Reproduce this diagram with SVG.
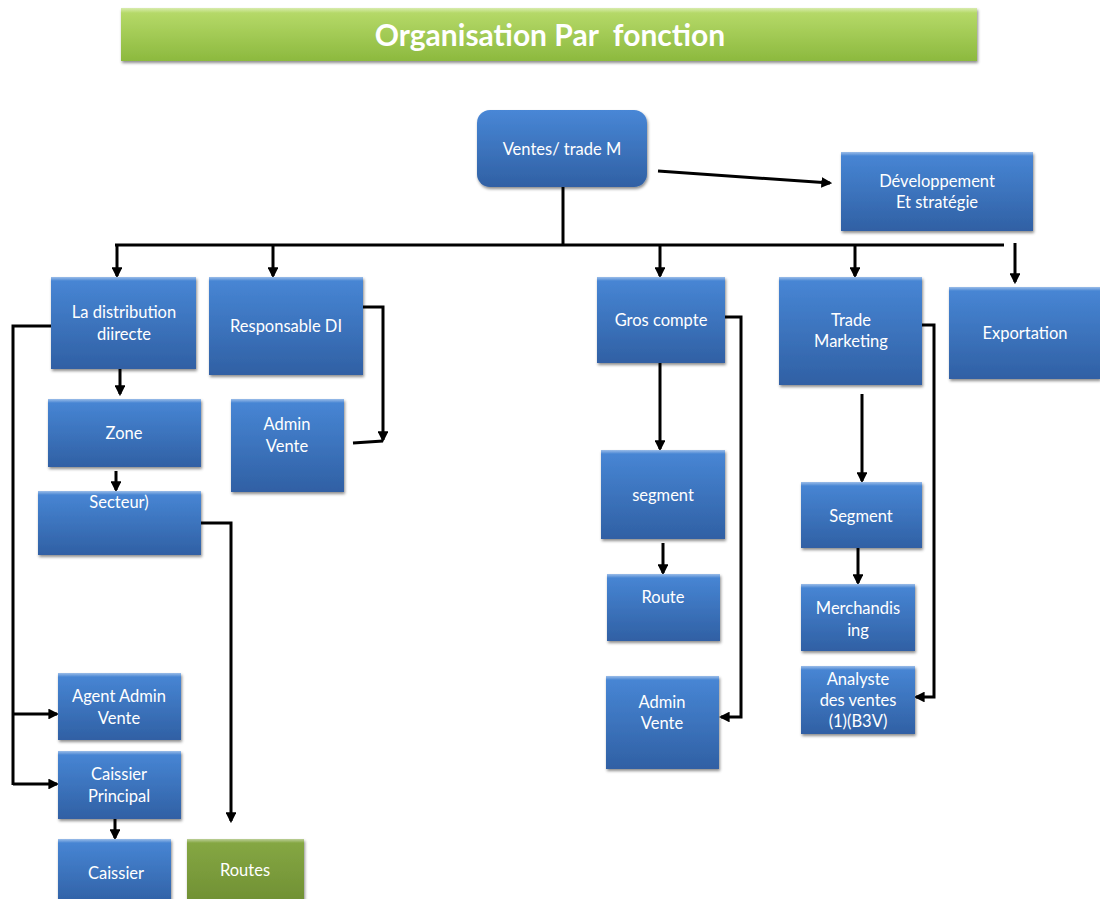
<svg xmlns="http://www.w3.org/2000/svg" width="1100" height="899" viewBox="0 0 1100 899">
  <style>
    .box { fill: url(#blue); filter: url(#shadow); }
    .gbox { fill: url(#olive); filter: url(#shadow); }
    .hi { fill: url(#shine); }
    .lbl { font-family: Lato, "Open Sans", sans-serif; font-size: 16.5px; fill: #ffffff; text-anchor: middle; }
    .title { font-family: Lato, "Open Sans", sans-serif; font-size: 30px; font-weight: bold; fill: #ffffff; text-anchor: middle; white-space: pre; }
    .wire { fill: none; stroke: #000000; stroke-width: 3; }
    .arr { marker-end: url(#head); }
  </style>
  <defs>
    <linearGradient id="blue" x1="0" y1="0" x2="0" y2="1">
      <stop offset="0" stop-color="#4887d6"/>
      <stop offset="1" stop-color="#3060a4"/>
    </linearGradient>
    <linearGradient id="olive" x1="0" y1="0" x2="0" y2="1">
      <stop offset="0" stop-color="#86a844"/>
      <stop offset="1" stop-color="#6f8f33"/>
    </linearGradient>
    <linearGradient id="lime" x1="0" y1="0" x2="0" y2="1">
      <stop offset="0" stop-color="#b9dc6c"/>
      <stop offset="1" stop-color="#8cb93e"/>
    </linearGradient>
    <linearGradient id="shine" x1="0" y1="0" x2="0" y2="1">
      <stop offset="0" stop-color="#ffffff" stop-opacity="0.45"/>
      <stop offset="1" stop-color="#ffffff" stop-opacity="0"/>
    </linearGradient>
    <filter id="shadow" x="-10%" y="-10%" width="125%" height="130%">
      <feDropShadow dx="1" dy="2" stdDeviation="1.6" flood-color="#000000" flood-opacity="0.45"/>
    </filter>
    <marker id="head" viewBox="0 0 10 10" refX="8" refY="5" markerWidth="3.6" markerHeight="3.6" orient="auto" markerUnits="strokeWidth">
      <path d="M0,0 L10,5 L0,10 z" fill="#000000"/>
    </marker>
  </defs>

  <rect width="1100" height="899" fill="#ffffff"/>

  <!-- title banner -->
  <g id="title">
    <rect x="121" y="8" width="856" height="53" fill="url(#lime)" filter="url(#shadow)"/>
    <rect x="121" y="8" width="856" height="5" class="hi"/>
    <text x="550" y="46" class="title">Organisation Par  fonction</text>
  </g>

  <!-- connectors -->
  <g id="connectors">
    <line x1="658" y1="171" x2="830" y2="183" class="wire arr"/>
    <line x1="563" y1="187" x2="563" y2="244" class="wire"/>
    <line x1="115" y1="245" x2="1004" y2="245" class="wire"/>
    <line x1="117" y1="245" x2="117" y2="276" class="wire arr"/>
    <line x1="273" y1="245" x2="273" y2="276" class="wire arr"/>
    <line x1="660" y1="245" x2="660" y2="276" class="wire arr"/>
    <line x1="855" y1="245" x2="855" y2="276" class="wire arr"/>
    <line x1="1015" y1="243" x2="1015" y2="282" class="wire arr"/>

    <!-- La distribution directe branch -->
    <line x1="120" y1="369" x2="120" y2="394" class="wire arr"/>
    <line x1="116" y1="471" x2="116" y2="490" class="wire arr"/>
    <polyline points="51,326 13,326 13,785" class="wire"/>
    <line x1="13" y1="714" x2="57" y2="714" class="wire arr"/>
    <line x1="13" y1="784" x2="57" y2="784" class="wire arr"/>
    <line x1="115" y1="819" x2="115" y2="838" class="wire arr"/>
    <polyline points="201,523 231,523 231,821" class="wire arr"/>

    <!-- Responsable DI branch -->
    <polyline points="363,307 383,307 383,440" class="wire arr"/>
    <line x1="353" y1="443" x2="383" y2="441" class="wire"/>

    <!-- Gros compte branch -->
    <line x1="660" y1="363" x2="660" y2="449" class="wire arr"/>
    <line x1="663" y1="543" x2="663" y2="573" class="wire arr"/>
    <polyline points="725,317 741,317 741,717 721,717" class="wire arr"/>

    <!-- Trade Marketing branch -->
    <line x1="862" y1="394" x2="862" y2="481" class="wire arr"/>
    <line x1="858" y1="544" x2="858" y2="583" class="wire arr"/>
    <polyline points="918,325 934,325 934,697 916,697" class="wire arr"/>
  </g>

  <g id="ventes">
    <rect x="477" y="110" width="170" height="77" rx="13" class="box"/>
    <text x="562" y="155" class="lbl">Ventes/ trade M</text>
  </g>

  <g id="developpement">
    <rect x="841" y="152" width="192" height="79" class="box"/>
    <rect x="841" y="152" width="192" height="4" class="hi"/>
    <text x="937" y="187" class="lbl">Développement</text>
    <text x="937" y="208" class="lbl">Et stratégie</text>
  </g>

  <g id="distribution">
    <rect x="51" y="277" width="145" height="92" class="box"/>
    <rect x="51" y="277" width="145" height="4" class="hi"/>
    <text x="124" y="318" class="lbl">La distribution</text>
    <text x="124" y="340" class="lbl">diirecte</text>
  </g>

  <g id="responsable">
    <rect x="209" y="277" width="154" height="98" class="box"/>
    <rect x="209" y="277" width="154" height="4" class="hi"/>
    <text x="286" y="332" class="lbl">Responsable DI</text>
  </g>

  <g id="zone">
    <rect x="48" y="399" width="153" height="68" class="box"/>
    <rect x="48" y="399" width="153" height="4" class="hi"/>
    <text x="124" y="439" class="lbl">Zone</text>
  </g>

  <g id="admin-di">
    <rect x="231" y="399" width="113" height="93" class="box"/>
    <rect x="231" y="399" width="113" height="4" class="hi"/>
    <text x="287" y="430" class="lbl">Admin</text>
    <text x="287" y="452" class="lbl">Vente</text>
  </g>

  <g id="secteur">
    <rect x="38" y="491" width="163" height="64" class="box"/>
    <rect x="38" y="491" width="163" height="4" class="hi"/>
    <text x="119" y="508" class="lbl">Secteur)</text>
  </g>

  <g id="agent-admin">
    <rect x="58" y="673" width="123" height="67" class="box"/>
    <rect x="58" y="673" width="123" height="4" class="hi"/>
    <text x="119" y="702" class="lbl">Agent Admin</text>
    <text x="119" y="724" class="lbl">Vente</text>
  </g>

  <g id="caissier-principal">
    <rect x="58" y="751" width="123" height="68" class="box"/>
    <rect x="58" y="751" width="123" height="4" class="hi"/>
    <text x="119" y="780" class="lbl">Caissier</text>
    <text x="119" y="802" class="lbl">Principal</text>
  </g>

  <g id="caissier">
    <rect x="58" y="839" width="113" height="66" class="box"/>
    <rect x="58" y="839" width="113" height="4" class="hi"/>
    <text x="116" y="879" class="lbl">Caissier</text>
  </g>

  <g id="routes">
    <rect x="187" y="839" width="117" height="66" class="gbox"/>
    <rect x="187" y="839" width="117" height="4" class="hi"/>
    <text x="245" y="876" class="lbl">Routes</text>
  </g>

  <g id="gros-compte">
    <rect x="597" y="277" width="128" height="86" class="box"/>
    <rect x="597" y="277" width="128" height="4" class="hi"/>
    <text x="661" y="326" class="lbl">Gros compte</text>
  </g>

  <g id="segment-gc">
    <rect x="601" y="450" width="124" height="89" class="box"/>
    <rect x="601" y="450" width="124" height="4" class="hi"/>
    <text x="663" y="501" class="lbl">segment</text>
  </g>

  <g id="route">
    <rect x="607" y="574" width="113" height="67" class="box"/>
    <rect x="607" y="574" width="113" height="4" class="hi"/>
    <text x="663" y="603" class="lbl">Route</text>
  </g>

  <g id="admin-gc">
    <rect x="606" y="676" width="113" height="93" class="box"/>
    <rect x="606" y="676" width="113" height="4" class="hi"/>
    <text x="662" y="708" class="lbl">Admin</text>
    <text x="662" y="729" class="lbl">Vente</text>
  </g>

  <g id="trade-marketing">
    <rect x="779" y="277" width="143" height="108" class="box"/>
    <rect x="779" y="277" width="143" height="4" class="hi"/>
    <text x="851" y="326" class="lbl">Trade</text>
    <text x="851" y="347" class="lbl">Marketing</text>
  </g>

  <g id="exportation">
    <rect x="949" y="287" width="151" height="92" class="box"/>
    <rect x="949" y="287" width="151" height="4" class="hi"/>
    <text x="1025" y="339" class="lbl">Exportation</text>
  </g>

  <g id="segment-tm">
    <rect x="801" y="482" width="121" height="66" class="box"/>
    <rect x="801" y="482" width="121" height="4" class="hi"/>
    <text x="861" y="522" class="lbl">Segment</text>
  </g>

  <g id="merchandising">
    <rect x="801" y="584" width="114" height="67" class="box"/>
    <rect x="801" y="584" width="114" height="4" class="hi"/>
    <text x="858" y="614" class="lbl">Merchandis</text>
    <text x="858" y="636" class="lbl">ing</text>
  </g>

  <g id="analyste">
    <rect x="801" y="666" width="114" height="68" class="box"/>
    <rect x="801" y="666" width="114" height="4" class="hi"/>
    <text x="858" y="685" class="lbl">Analyste</text>
    <text x="858" y="706" class="lbl">des ventes</text>
    <text x="858" y="727" class="lbl">(1)(B3V)</text>
  </g>
</svg>
